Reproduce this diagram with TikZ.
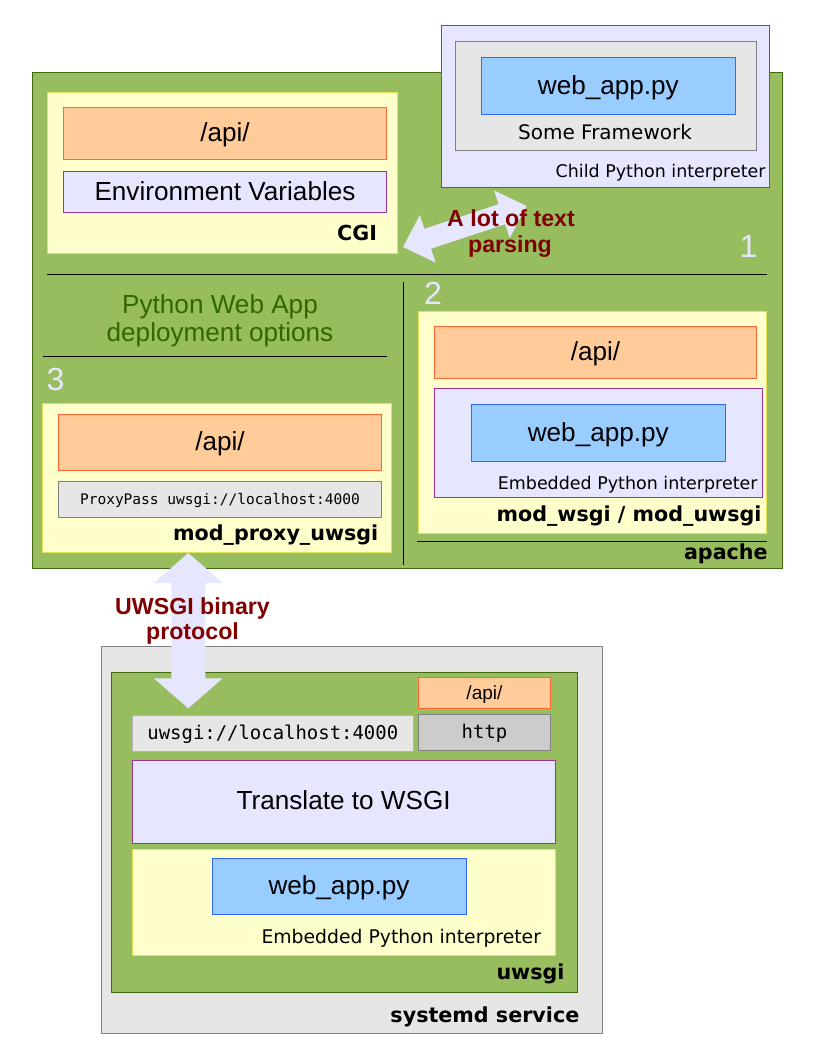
\documentclass[tikz,border=0pt]{standalone}
\usepackage{fontspec}
\setmainfont{Liberation Sans}
\newfontfamily\djv{DejaVu Sans}
\newfontfamily\djvm{DejaVu Sans Mono}
\definecolor{apgreen}{HTML}{97BD5F}
\definecolor{apgreenB}{HTML}{3F6A0F}
\definecolor{ylw}{HTML}{FFFFCC}
\definecolor{ylwB}{HTML}{E0E35A}
\definecolor{org}{HTML}{FFCC99}
\definecolor{orgB}{HTML}{FF6633}
\definecolor{lav}{HTML}{E6E6FF}
\definecolor{lavB}{HTML}{993399}
\definecolor{blu}{HTML}{99CCFF}
\definecolor{bluB}{HTML}{3366FF}
\definecolor{gry}{HTML}{E6E6E6}
\definecolor{gryB}{HTML}{808080}
\definecolor{gryD}{HTML}{CCCCCC}
\definecolor{gryL}{HTML}{B3B3B3}
\definecolor{dred}{HTML}{800000}
\definecolor{dgreen}{HTML}{336600}
\newcommand\fs[1]{\fontsize{#1}{#1}\selectfont}
\newcommand\rbox[7]{\node[#2, minimum width={(#5-#3)*0.75pt}, minimum height={(#6-#4)*0.75pt}] (#1) at ({(#3+#5)/2},{(#4+#6)/2}) {#7};}
\tikzset{
  box/.style={draw, line width=0.75pt, inner sep=0pt, outer sep=0pt},
  greenbox/.style={box, fill=apgreen, draw=apgreenB},
  ylwbox/.style={box, fill=ylw, draw=ylwB},
  apibox/.style={box, fill=org, draw=orgB},
  lavbox/.style={box, fill=lav, draw=lavB},
  appbox/.style={box, fill=blu, draw=bluB},
  grybox/.style={box, fill=gry, draw=gryB},
  bigtxt/.style={font=\fs{19.6pt}, text height=12.7pt, text depth=0pt},
  smalltxt/.style={font=\fs{14.3pt}, text height=10.2pt, text depth=0pt},
  monotxt/.style={font=\djvm\fs{14.2pt}, text height=9pt, text depth=0pt},
  lbl/.style={inner sep=0pt, outer sep=0pt},
  boldlbl/.style={lbl, font=\djv\bfseries\fs{15.5pt}},
  interp/.style={lbl, font=\djv\fs{13.1pt}},
  redlbl/.style={lbl, font=\bfseries\fs{17.4pt}, text=dred},
  numlbl/.style={lbl, font=\fs{24pt}, text=lav},
  divider/.style={line width=0.75pt, draw=black},
  fatarrow/.style={fill=lav, draw=none}
}
\begin{document}
\begin{tikzpicture}[x=0.75pt,y=-0.75pt]
\useasboundingbox (0,0) rectangle (816,1056);

% apache
\rbox{apache}{greenbox}{32.7}{72.3}{782.5}{568.3}{}

% CGI
\rbox{cgi}{ylwbox}{47.3}{92.7}{397.7}{253.3}{}
\rbox{cgiapi}{apibox, bigtxt}{63.3}{107.3}{386.7}{159.3}{/api/}
\rbox{envvars}{lavbox, bigtxt}{63.3}{171}{386.7}{212.3}{Environment Variables}
\node[boldlbl, anchor=base east] (cgilbl) at (377,240) {CGI};

% child interpreter
\rbox{child}{lavbox}{441.7}{26}{769.3}{187.7}{}
\rbox{fw}{grybox}{455.7}{41.7}{756.7}{150}{}
\rbox{app1}{appbox, bigtxt}{481}{57.3}{735.7}{114.3}{web\_app.py}
\node[lbl, font=\djv\fs{15pt}, anchor=base] (fwlbl) at (605,139.5) {Some Framework};
\node[interp, anchor=base east] (childlbl) at (765.5,177.3) {Child Python interpreter};

% dividers
\coordinate (d1a) at (47,274.3);
\coordinate (d1b) at (767,274.3);
\draw[divider] (d1a) -- (d1b);
\coordinate (d2a) at (403.3,282);
\coordinate (d2b) at (403.3,565);
\draw[divider] (d2a) -- (d2b);
\coordinate (d3a) at (42.7,356.3);
\coordinate (d3b) at (386.7,356.3);
\draw[divider] (d3a) -- (d3b);
\coordinate (d4a) at (417.3,541.3);
\coordinate (d4b) at (767,541.3);
\draw[divider] (d4a) -- (d4b);

% numbers and title
\node[numlbl, anchor=base] (n1) at (748.5,257.5) {1};
\node[numlbl, anchor=base] (n2) at (433,304) {2};
\node[numlbl, anchor=base] (n3) at (55.5,390) {3};
\node[lbl, font=\fs{19.6pt}, text=dgreen, anchor=base] (pwa1) at (220,313.3) {Python Web App};
\node[lbl, font=\fs{19.6pt}, text=dgreen, anchor=base] (pwa2) at (220,341) {deployment options};

% mod_proxy_uwsgi
\rbox{mproxy}{ylwbox}{42.7}{403}{391.7}{552.7}{}
\rbox{mpapi}{apibox, bigtxt}{58.3}{414}{381.7}{470}{/api/}
\rbox{ppass}{grybox, font=\djvm\fs{10.9pt}, text height=6.75pt, text depth=0pt}{58.3}{481.7}{381.7}{517.3}{ProxyPass uwsgi://localhost:4000}
\node[boldlbl, anchor=base east] (mplbl) at (378.3,540.7) {mod\_proxy\_uwsgi};

% mod_wsgi
\rbox{mwsgi}{ylwbox}{418.3}{311}{766.7}{533.3}{}
\rbox{mwapi}{apibox, bigtxt}{434.3}{326.7}{756.7}{378}{/api/}
\rbox{emb1}{lavbox}{434}{388.3}{762.3}{497.3}{}
\rbox{app2}{appbox, bigtxt}{471.3}{404.3}{725.3}{461}{web\_app.py}
\node[interp, anchor=base east] (emb1lbl) at (757.5,489) {Embedded Python interpreter};
\node[boldlbl, anchor=base east] (mwlbl) at (761.5,521.7) {mod\_wsgi / mod\_uwsgi};
\node[boldlbl, anchor=base east] (aplbl) at (767.7,559) {apache};

% systemd / uwsgi
\rbox{systemd}{grybox}{101}{646.7}{602}{1033.3}{}
\rbox{uwsgi}{greenbox}{111.7}{672.3}{577.5}{992.7}{}
\rbox{uapi}{apibox, smalltxt}{418.3}{677.7}{550.7}{708.3}{/api/}
\rbox{usock}{box, fill=gry, draw=gryL, monotxt}{132.3}{715}{413.3}{751}{uwsgi://localhost:4000}
\rbox{uhttp}{box, fill=gryD, draw=gryB, monotxt}{418.3}{714}{550.7}{750}{http}
\rbox{trans}{lavbox, bigtxt}{132.3}{760}{555}{843}{Translate to WSGI}
\rbox{emb2}{ylwbox}{132.3}{849}{555}{955}{}
\rbox{app3}{appbox, bigtxt}{212}{858}{466}{914}{web\_app.py}
\node[lbl, font=\djv\fs{14.1pt}, anchor=base east] (emb2lbl) at (541,943) {Embedded Python interpreter};
\node[boldlbl, anchor=base east] (uwlbl) at (564.5,979.3) {uwsgi};
\node[boldlbl, anchor=base east] (sdlbl) at (579.3,1022.3) {systemd service};

% fat arrow: text parsing
\coordinate (cgiL) at (403,247);
\coordinate (cgiR) at (526.5,206);
\begin{scope}[shift={(cgiL)}, rotate=18.37]
\fill[fatarrow] (0,0) -- (26,-25) -- (26,-10.5) -- (104.2,-10.5) -- (104.2,-25) -- (130.2,0)
  -- (104.2,25) -- (104.2,10.5) -- (26,10.5) -- (26,25) -- cycle;
\end{scope}
\node[redlbl, anchor=base] (parse1) at (511,226.7) {A lot of text};
\node[redlbl, anchor=base] (parse2) at (510,252.7) {parsing};

% fat arrow: uwsgi protocol
\coordinate (uwT) at (188.3,553);
\coordinate (uwB) at (188.3,708.3);
\begin{scope}[shift={(uwT)}, rotate=-90]
\fill[fatarrow] (0,0) -- (30,-34.5) -- (30,-17) -- (125.3,-17) -- (125.3,-34.5) -- (155.3,0)
  -- (125.3,34.5) -- (125.3,17) -- (30,17) -- (30,34.5) -- cycle;
\end{scope}
\node[redlbl, anchor=base] (uw1) at (192.5,614) {UWSGI binary};
\node[redlbl, anchor=base] (uw2) at (192.5,639.3) {protocol};

\end{tikzpicture}
\end{document}
